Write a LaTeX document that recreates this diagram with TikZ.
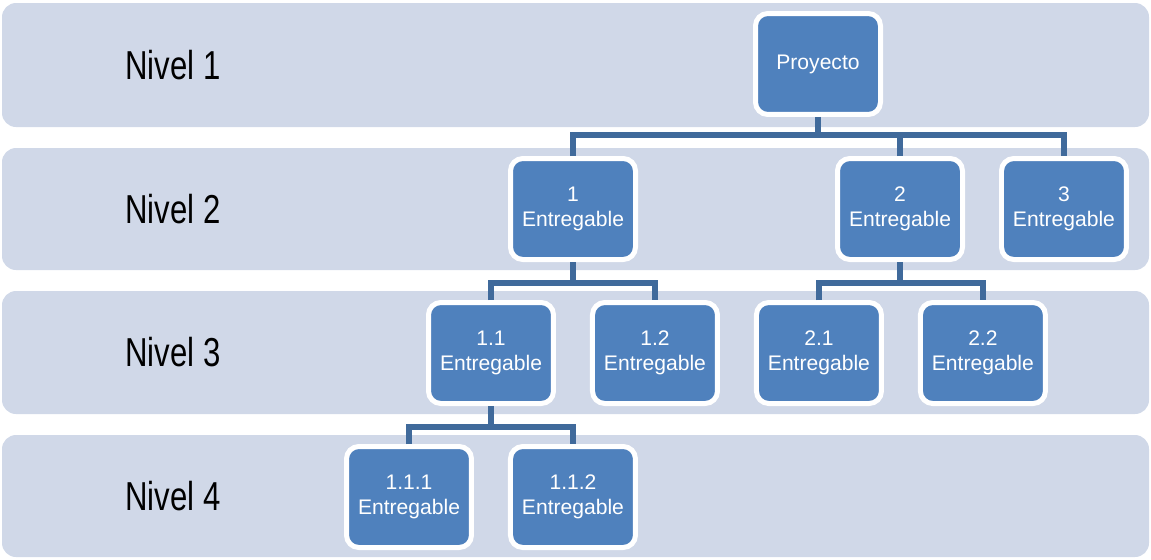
\documentclass[tikz,border=0pt]{standalone}
\usepackage{fontspec}
\setmainfont{Liberation Sans}
\newfontfamily\nivelfont[FakeStretch=0.77]{Liberation Sans}
\usetikzlibrary{calc, positioning}
\definecolor{bandgray}{RGB}{208,216,232}
\definecolor{boxblue}{RGB}{79,129,189}
\definecolor{linkblue}{RGB}{64,106,155}

\begin{document}
\begin{tikzpicture}[
    x=0.02cm, y=-0.02cm,
    levelband/.style={fill=bandgray, rounded corners=8},
    levellabel/.style={anchor=west, inner sep=0pt, font=\nivelfont\fontsize{23}{26}\selectfont},
    wbsnode/.style={rectangle, rounded corners=7, fill=boxblue, draw=white, line width=0.1cm,
      minimum width=2.5cm, minimum height=2.02cm, text=white, align=center,
      font=\fontsize{12}{14.2}\selectfont},
    link/.style={draw=linkblue, line width=0.13cm},
    node distance=0.68cm,
    ]
    \useasboundingbox (0,0) rectangle (1151,559);

    %Bands
    \fill[levelband] (2,3) rectangle (1149,127);
    \fill[levelband] (2,148) rectangle (1149,270);
    \fill[levelband] (2,291) rectangle (1149,414);
    \fill[levelband] (2,435) rectangle (1149,557);

    %Labels
    \node[levellabel] (nivel1) at (125,65)  {Nivel 1};
    \node[levellabel] (nivel2) at (125,209) {Nivel 2};
    \node[levellabel] (nivel3) at (125,352) {Nivel 3};
    \node[levellabel] (nivel4) at (125,496) {Nivel 4};

    %Nodes
    \node[wbsnode] (proyecto) at (818,64)  {Proyecto};
    \node[wbsnode] (ent1)     at (573,209) {1\\Entregable};
    \node[wbsnode] (ent2)     at (900,209) {2\\Entregable};
    \node[wbsnode] (ent3)     [right=of ent2] {3\\Entregable};
    \node[wbsnode] (ent11)    at (491,353) {1.1\\Entregable};
    \node[wbsnode] (ent12)    [right=of ent11] {1.2\\Entregable};
    \node[wbsnode] (ent21)    [right=of ent12] {2.1\\Entregable};
    \node[wbsnode] (ent22)    [right=of ent21] {2.2\\Entregable};
    \node[wbsnode] (ent111)   at (409,497) {1.1.1\\Entregable};
    \node[wbsnode] (ent112)   [right=of ent111] {1.1.2\\Entregable};

    %Lines
    \coordinate (bus1) at (0,135);
    \coordinate (bus2) at (0,283);
    \coordinate (bus3) at (0,427);
    \draw[link] (proyecto.south) -- (proyecto.south |- bus1);
    \draw[link] (ent1.north) |- (ent3.north |- bus1) -- (ent3.north);
    \draw[link] (ent2.north) -- (ent2.north |- bus1);
    \draw[link] (ent1.south) -- (ent1.south |- bus2);
    \draw[link] (ent11.north) |- (ent12.north |- bus2) -- (ent12.north);
    \draw[link] (ent2.south) -- (ent2.south |- bus2);
    \draw[link] (ent21.north) |- (ent22.north |- bus2) -- (ent22.north);
    \draw[link] (ent11.south) -- (ent11.south |- bus3);
    \draw[link] (ent111.north) |- (ent112.north |- bus3) -- (ent112.north);
\end{tikzpicture}
\end{document}
